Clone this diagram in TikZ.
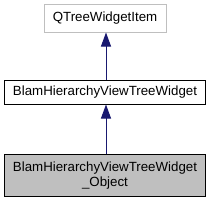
\documentclass[tikz,border=0pt]{standalone}
\usepackage{fontspec}
\setmainfont{Liberation Sans}
\usetikzlibrary{arrows.meta}
\definecolor{boxgray}{HTML}{BFBFBF}
\definecolor{edgeblue}{HTML}{191970}
\begin{document}
\begin{tikzpicture}[x=1pt,y=1pt,
  cls/.style={draw=black, line width=1pt, fill=white, inner sep=0pt,
    font=\fontsize{13.3}{15}\selectfont, align=center},
  inherit/.style={draw=edgeblue, line width=1pt,
    -{Triangle[length=14pt,width=10pt]}, color=edgeblue, fill=edgeblue}]
\useasboundingbox (0,0) rectangle (212,-201);
\node[cls, draw=boxgray, minimum width=122pt, minimum height=27.5pt] (q) at (105,-18.25) {QTreeWidgetItem};
\node[cls, minimum width=201.5pt, minimum height=24pt] (b) at (105,-92) {BlamHierarchyViewTreeWidget};
\node[cls, fill=boxgray, minimum width=201.5pt, minimum height=41.5pt] (o) at (105,-175.5) {BlamHierarchyViewTreeWidget\\\_Object};
\draw[inherit] (b.north -| 106,0) -- (q.south -| 106,0);
\draw[inherit] (o.north -| 106,0) -- (b.south -| 106,0);
\end{tikzpicture}
\end{document}
